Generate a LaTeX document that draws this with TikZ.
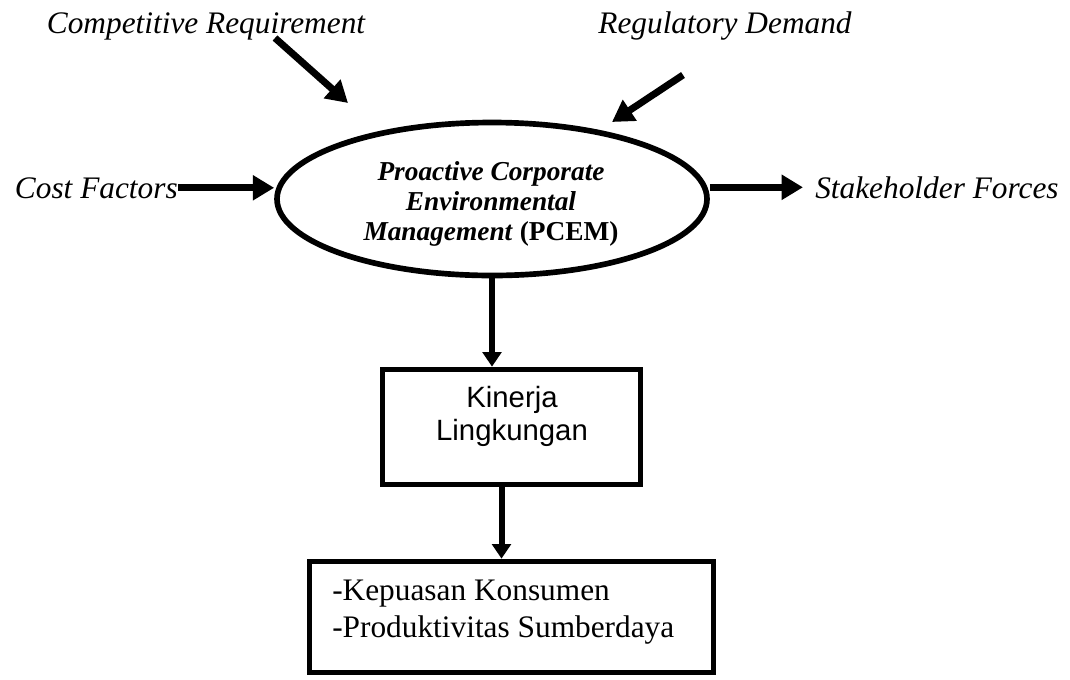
\documentclass[tikz,border=0pt]{standalone}
\usepackage{fontspec}
\setmainfont{Liberation Serif}
\setsansfont{Liberation Sans}
\usetikzlibrary{shapes.geometric,arrows.meta,positioning}

\tikzset{
  force/.style={font=\fontsize{23.5}{27}\selectfont\itshape, inner sep=0pt},
  bigarrow/.style={line width=5.25pt, -{Triangle[length=16pt,width=18pt]}},
  smallarrow/.style={line width=4.5pt, -{Triangle[length=11pt,width=14pt]}},
  box/.style={draw, line width=4.25pt, rectangle, inner sep=0pt}
}

\begin{document}
\begin{tikzpicture}[x=0.75pt,y=-0.75pt]
\useasboundingbox (0,0) rectangle (1070,679);

 % Nodes

\node[draw, ellipse, line width=4.25pt, minimum width=322.5pt, minimum height=114.75pt,
      inner sep=0pt] (pcem) at (492,199) {};
\node[anchor=base, align=center, inner sep=0pt, font=\fontsize{20.5}{22.5}\selectfont\bfseries]
      (pcemtxt) at (491,240) {\textit{Proactive Corporate}\\\textit{Environmental}\\\textit{Management} (PCEM)};

\node[force, anchor=base]      (comp)  at (206,33)  {Competitive Requirement};
\node[force, anchor=base]      (reg)   at (725,33)  {Regulatory Demand};
\node[force, anchor=base east] (cost)  at (178,198) {Cost Factors};
\node[force, anchor=base west] (stake) at (815,198) {Stakeholder Forces};

\coordinate (comp-from) at (275,38);
\coordinate (comp-to)   at (348,103);
\coordinate (reg-from)  at (683,75);
\coordinate (reg-to)    at (612,122);

\node[box, minimum width=193.5pt, minimum height=86.25pt] (kinerja) at (511.5,427) {};
\node[anchor=base, align=center, inner sep=0pt, font=\sffamily\fontsize{22}{24.75}\selectfont] (kinerjatxt) at (512,440) {Kinerja\\Lingkungan};

\node[box, minimum width=303pt, minimum height=83.25pt] (hasil) at (511.5,617) {};
\node[anchor=base west, align=left, inner sep=0pt, font=\fontsize{23.5}{27.75}\selectfont] (hasiltxt) at (332,637) {-Kepuasan Konsumen\\-Produktivitas Sumberdaya};

% Connect nodes
\draw[bigarrow] (comp-from) -- (comp-to);
\draw[bigarrow] (reg-from) -- (reg-to);
\draw[bigarrow] (cost.east) -- (cost.east -| pcem.west);
\draw[bigarrow] (pcem.east |- stake.west) -- ([xshift=-9pt]stake.west);

\draw[smallarrow] (pcem.south) -- (pcem.south |- kinerja.north);
\draw[smallarrow] ([xshift=-7.5pt]kinerja.south) -- ([xshift=-7.5pt]kinerja.south |- hasil.north);

\end{tikzpicture}
\end{document}
